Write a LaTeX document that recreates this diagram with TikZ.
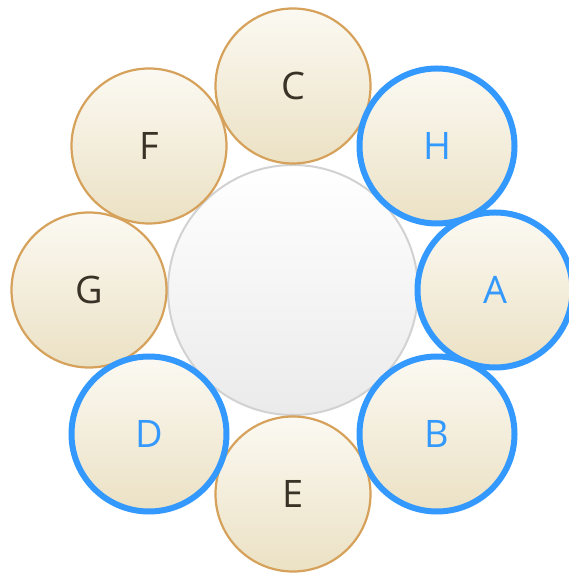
\documentclass[tikz,border=0pt]{standalone}
\usepackage{fontspec}
\setmainfont{Open Sans}
\definecolor{orangeb}{HTML}{D6A15A}
\definecolor{blueb}{HTML}{3399FF}
\definecolor{topc}{HTML}{FBF9F2}
\definecolor{botc}{HTML}{EBE1C4}
\definecolor{txt}{HTML}{3A3226}
\definecolor{cgray}{HTML}{D2D2D2}
\begin{document}
\begin{tikzpicture}[x=1bp,y=1bp,
  petal/.style={circle,minimum size=155bp,inner sep=0pt,top color=topc,bottom color=botc,font=\fontsize{38}{38}\selectfont},
  plain/.style={petal,draw=orangeb,line width=2.2bp,text=txt},
  hilite/.style={petal,draw=blueb,line width=6bp,text=blueb},
  hub/.style={circle,minimum size=250bp,inner sep=0pt,draw=cgray,line width=2bp,top color=white,bottom color=black!8}]
\path[use as bounding box] (0,0) rectangle (569,574);
\node[hub] (hub) at (293,284) {};
\node[plain] (G) at (89,284) {G};
\node[plain] (F) at (149,428) {F};
\node[plain] (C) at (293,488) {C};
\node[plain] (E) at (293,80) {E};
\node[hilite] (A) at (495,284) {A};
\node[hilite] (H) at (437,428) {H};
\node[hilite] (B) at (437,140) {B};
\node[hilite] (D) at (149,140) {D};
\end{tikzpicture}
\end{document}
